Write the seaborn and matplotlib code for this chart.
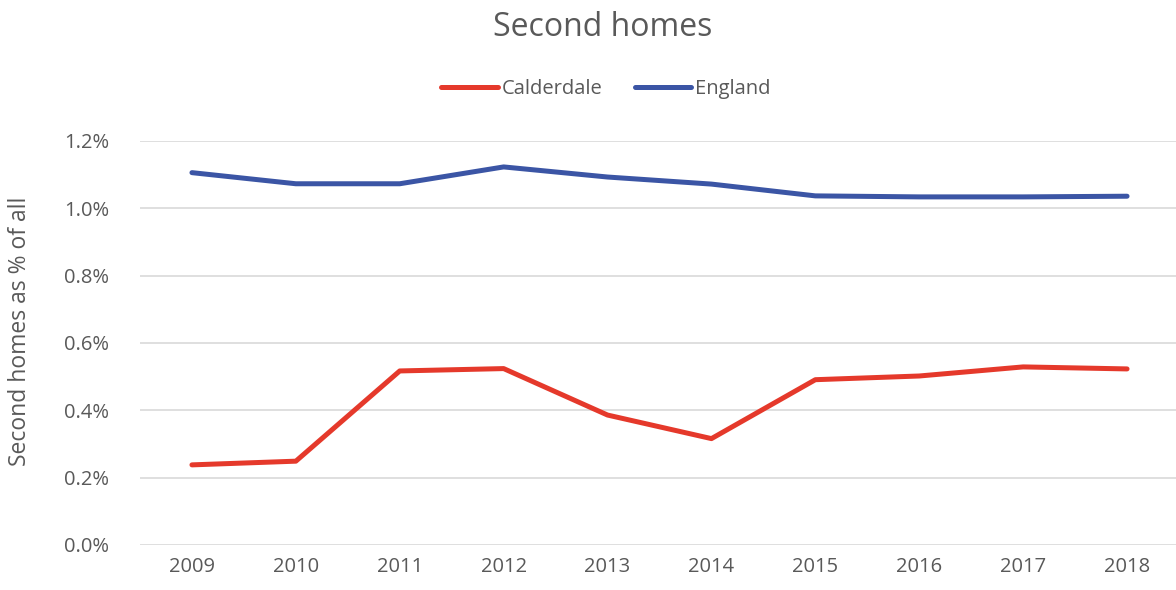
import numpy as np
import pandas as pd
import seaborn as sns
import matplotlib.pyplot as plt
from matplotlib.ticker import FuncFormatter

sns.set_style("white")
plt.rcParams['font.family'] = ['Open Sans', 'DejaVu Sans']

# Данные (доля вторых домов, %)
years = ['2009', '2010', '2011', '2012', '2013', '2014', '2015', '2016', '2017', '2018']
calderdale = [0.238, 0.249, 0.517, 0.524, 0.386, 0.316, 0.491, 0.502, 0.529, 0.523]
england = [1.106, 1.073, 1.073, 1.123, 1.093, 1.072, 1.037, 1.034, 1.034, 1.036]

df = pd.DataFrame({
    'year': years * 2,
    'value': calderdale + england,
    'area': ['Calderdale'] * len(years) + ['England'] * len(years),
})

text_col = '#595959'
fig = plt.figure(figsize=(11.76, 5.9), dpi=100)
ax = fig.add_axes([140 / 1176, 45 / 590, 1039 / 1176, 404 / 590])

sns.lineplot(data=df, x='year', y='value', hue='area', ax=ax,
             palette={'Calderdale': '#E5392B', 'England': '#3B55A5'},
             linewidth=3.6, solid_capstyle='round', sort=False)

ax.set_xlim(-0.5, 9.5)
ax.set_ylim(0, 1.2)
ax.set_yticks(np.arange(0, 1.21, 0.2))
ax.yaxis.set_major_formatter(FuncFormatter(lambda v, p: f'{v:.1f}%'))
ax.grid(True, axis='y', color='#D9D9D9', linewidth=1.2)
ax.set_axisbelow(True)
for s in ['top', 'right', 'left', 'bottom']:
    ax.spines[s].set_visible(False)
ax.tick_params(axis='both', length=0, labelsize=14.5, labelcolor=text_col)
ax.tick_params(axis='x', pad=9)
ax.tick_params(axis='y', pad=22)

ax.set_xlabel('')
ax.set_ylabel('Second homes as % of all', fontsize=16.5, color=text_col)
ax.yaxis.set_label_coords(-(140 - 32) / 1039, 0.53)

fig.text(603 / 1176, 1 - 27 / 590, 'Second homes', fontsize=23, color=text_col,
         ha='center', va='center')

handles, labels = ax.get_legend_handles_labels()
ax.legend(handles, labels, loc='center', bbox_to_anchor=(606 / 1176, 1 - 89 / 590),
          bbox_transform=fig.transFigure, ncol=2, frameon=False, fontsize=14.5,
          labelcolor=text_col, handlelength=2.8, handletextpad=0.2, columnspacing=1.6)

plt.savefig('out.png', dpi=100)
